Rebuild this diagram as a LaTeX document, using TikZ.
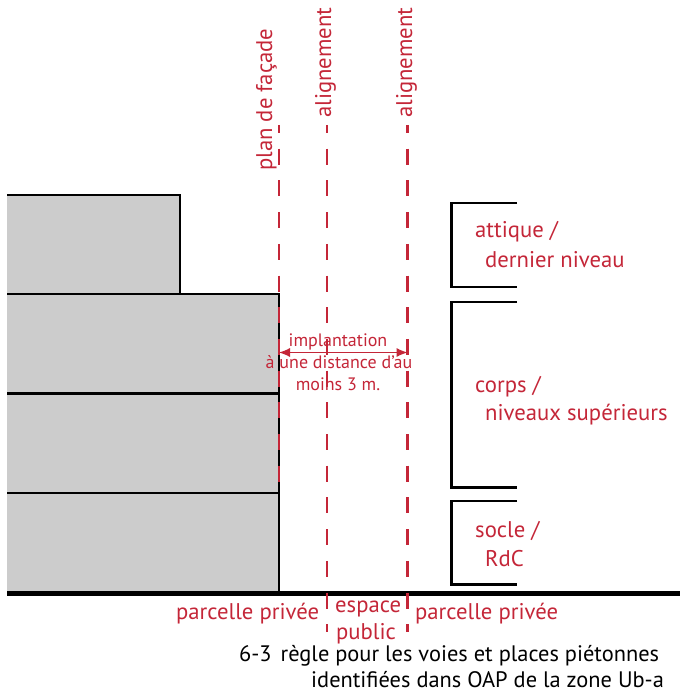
\documentclass[tikz,border=0pt]{standalone}
\usepackage{fontspec}
\setmainfont{PT Sans}
\usepackage{tikz}
\usetikzlibrary{arrows.meta}
\definecolor{RedLabel}{RGB}{196,38,56}
\definecolor{GrayBlock}{RGB}{204,204,204}
\tikzset{
  block/.style={fill=GrayBlock,draw=none},
  edge/.style={line width=2.8pt,color=black},
  limit/.style={line width=2.6pt,color=RedLabel,dash pattern=on 16pt off 15.7pt,dash phase=8pt},
  redlabel/.style={color=RedLabel,font=\fontsize{22.7}{26}\selectfont,inner sep=0pt},
  smalllabel/.style={color=RedLabel,font=\fontsize{18}{22}\selectfont,inner sep=0pt,align=center},
  blacklabel/.style={color=black,font=\fontsize{22.4}{26}\selectfont,inner sep=0pt},
}
\begin{document}
\begin{tikzpicture}[line cap=butt,line join=miter,x=1pt,y=-1pt]
\useasboundingbox (0,0) rectangle (680,692);
% building
\fill[block] (7,195) rectangle (180,294);
\fill[block] (7,294) rectangle (279,592);
\draw[edge] (7,195) -- (180,195) -- (180,294);
\draw[edge] (7,294) -- (279,294) -- (279,592);
\draw[edge] (7,393.5) -- (279,393.5);
\draw[edge] (7,493) -- (279,493);
\draw[line width=5.3pt] (7,593.5) -- (680,593.5);
% dashed limits
\draw[limit] (279,125) -- (279,495);
\draw[limit] (327,125) -- (327,632);
\draw[limit] (407.5,125) -- (407.5,632);
% brackets
\draw[edge] (517,203) -- (451.5,203) -- (451.5,287) -- (517,287);
\draw[edge] (517,302) -- (451.5,302) -- (451.5,487.5) -- (517,487.5);
\draw[edge] (517,501) -- (451.5,501) -- (451.5,584.5) -- (517,584.5);
% distance
\coordinate (facade) at (279,352.5);
\coordinate (alignB) at (407.5,352.5);
\draw[{Latex[length=11pt,width=9pt]}-{Latex[length=11pt,width=9pt]},line width=1pt,color=RedLabel] (facade) -- (alignB);
\node[smalllabel,anchor=base] (implantation) at (338,346) {implantation};
\node[smalllabel,anchor=base] (distance) at (339,368) {à une distance d’au};
\node[smalllabel,anchor=base] (moins) at (338,390) {moins 3 m.};
% vertical labels
\node[redlabel,rotate=90,anchor=base west] (plan) at (272,171) {plan de façade};
\node[redlabel,rotate=90,anchor=base west] (alignA) at (331,118) {alignement};
\node[redlabel,rotate=90,anchor=base west] (alignC) at (412,118) {alignement};
% levels
\node[redlabel,anchor=base west] (attique) at (475,238) {attique /};
\node[redlabel,anchor=base west] (dernier) at (485,267) {dernier niveau};
\node[redlabel,anchor=base west] (corps) at (475,392) {corps /};
\node[redlabel,anchor=base west] (niveaux) at (485,420) {niveaux supérieurs};
\node[redlabel,anchor=base west] (socle) at (475,537) {socle /};
\node[redlabel,anchor=base west] (rdc) at (485,566) {RdC};
% ground
\node[redlabel,anchor=base west] (priveeA) at (176,619) {parcelle privée};
\node[redlabel,anchor=base west] (espace) at (335,612) {espace};
\node[redlabel,anchor=base west] (public) at (336,639) {public};
\node[redlabel,anchor=base west] (priveeB) at (415,619) {parcelle privée};
% caption
\node[blacklabel,anchor=base west] (captionA) at (239,661) {6-3\hspace{9pt}règle pour les voies et places piétonnes};
\node[blacklabel,anchor=base west] (captionB) at (311,687.5) {identifiées dans OAP de la zone Ub-a};
\end{tikzpicture}
\end{document}
